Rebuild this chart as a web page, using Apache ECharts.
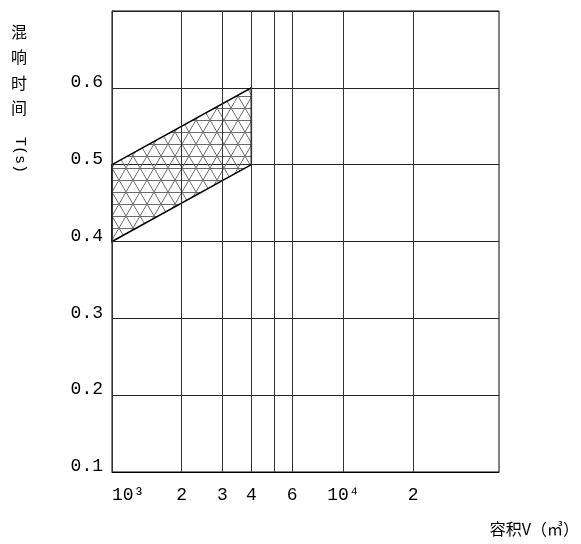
<!DOCTYPE html>
<html>
<head>
<meta charset="utf-8">
<script src="https://cdn.jsdelivr.net/npm/echarts@6/dist/echarts.min.js"></script>
<style>html,body{margin:0;padding:0;background:#fff}#c{width:581px;height:544px}</style>
</head>
<body>
<div id="c"></div>
<script>
// ---- data ----
var volumeRange = [1000, 4000];            // V (m³), span of the recommended zone
var lowerT = [0.4, 0.5];                   // lower bound of T (s) at the two ends
var upperT = [0.5, 0.6];                   // upper bound of T (s) at the two ends
var gridVolumes = [1000, 2000, 3000, 4000, 5000, 6000, 10000, 20000];
var gridLabels = ['10³', '2', '3', '4', '', '6', '10⁴', '2'];
var yTicks = [0.1, 0.2, 0.3, 0.4, 0.5, 0.6, 0.7];

// hatch pattern (triangular lattice)
var pat = document.createElement('canvas');
pat.width = 14; pat.height = 24;
var g = pat.getContext('2d');
g.strokeStyle = '#6a6a6a'; g.lineWidth = 1;
g.beginPath();
g.moveTo(0, 0.5); g.lineTo(14, 0.5);
g.moveTo(0, 12.5); g.lineTo(14, 12.5);
g.moveTo(0, 0); g.lineTo(14, 24);
g.moveTo(14, 0); g.lineTo(0, 24);
g.stroke();

var chart = echarts.init(document.getElementById('c'));
var mono = 'Liberation Mono';
chart.setOption({
  animation: false,
  backgroundColor: '#fff',
  grid: {left: 112, right: 82, top: 11, bottom: 72, show: true, borderColor: '#000', borderWidth: 1},
  xAxis: {
    type: 'log', logBase: 10, min: 1000, max: 47000,
    axisLine: {lineStyle: {color: '#000'}}, axisTick: {show: false},
    axisLabel: {show: false}, splitLine: {show: false}
  },
  yAxis: {
    type: 'value', min: yTicks[0], max: yTicks[yTicks.length - 1], interval: 0.1,
    axisLine: {show: true, lineStyle: {color: '#000'}}, axisTick: {show: false},
    splitLine: {lineStyle: {color: '#222', width: 1}},
    axisLabel: {
      fontFamily: mono, fontSize: 18, color: '#000', margin: 9,
      verticalAlign: 'bottom', lineHeight: 11,
      formatter: function (v) { return v > 0.65 ? '' : v.toFixed(1); }
    }
  },
  graphic: [
    {type: 'text', left: 11, top: 19, style: {text: '混\n响\n时\n间', font: '16px "Noto Sans CJK SC"', lineHeight: 25.5, fill: '#000'}},
    {type: 'text', x: 20, y: 155, rotation: -Math.PI / 2, style: {text: 'T(s)', font: '15px "Liberation Mono"', align: 'center', verticalAlign: 'middle', fill: '#000'}},
    {type: 'text', right: 2, top: 521, style: {text: '容积V（㎥）', font: '16px "Noto Sans CJK SC"', fill: '#000'}}
  ],
  series: [{
    type: 'custom',
    data: [[volumeRange[0], lowerT[0]]],
    renderItem: function (params, api) {
      var pts = [
        api.coord([volumeRange[0], lowerT[0]]),
        api.coord([volumeRange[1], lowerT[1]]),
        api.coord([volumeRange[1], upperT[1]]),
        api.coord([volumeRange[0], upperT[0]])
      ];
      return {
        type: 'polygon', shape: {points: pts},
        style: {fill: {image: pat, repeat: 'repeat'}, stroke: '#000', lineWidth: 1.5}
      };
    },
    markLine: {
      silent: true, symbol: 'none',
      lineStyle: {color: '#333', width: 1, type: 'solid'},
      label: {position: 'start', distance: 14, fontFamily: mono, fontSize: 18, color: '#000',
        formatter: function (p) { return p.name; }},
      data: gridVolumes.map(function (v, i) {
        var item = {xAxis: v, name: gridLabels[i]};
        if (i === 0) { item.label = {align: 'left'}; }
        return item;
      })
    },
    z: 3
  }]
});
</script>
</body>
</html>
